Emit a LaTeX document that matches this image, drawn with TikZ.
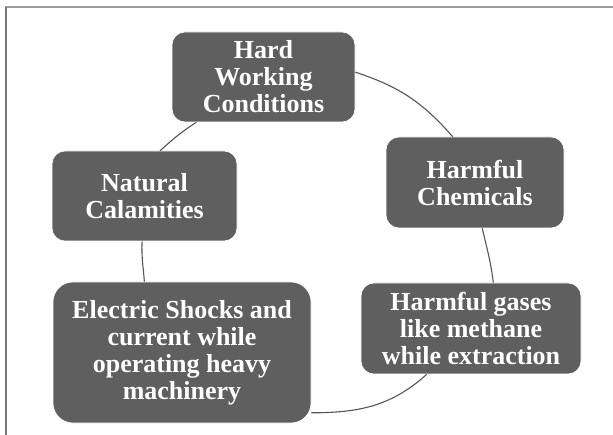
\documentclass[tikz,border=0pt]{standalone}
\usepackage{fontspec}
\setmainfont{Liberation Serif}
\definecolor{boxgray}{RGB}{95,95,95}
\definecolor{linegray}{RGB}{85,85,85}
\definecolor{frametop}{RGB}{155,155,155}
\definecolor{frameleft}{RGB}{120,120,120}
\tikzset{
  causebox/.style={rectangle, rounded corners=13pt, fill=boxgray, draw=white, line width=0.6pt,
    text=white, align=center, inner sep=0pt,
    font=\fontsize{26}{27}\selectfont\bfseries},
  cycleline/.style={draw=linegray, line width=1.1pt},
  framerule/.style={line width=1.5pt}
}
\begin{document}
\begin{tikzpicture}[x=1pt,y=1pt]
\useasboundingbox (0,0) rectangle (613,-435);
% frame
\coordinate (ftl) at (6,-7);
\coordinate (ftr) at (613,-7);
\coordinate (fbl) at (6,-435);
\draw[framerule, frametop] (5,-7) -- (ftr);
\draw[framerule, frameleft] (ftl) -- (fbl);
% nodes
\node[causebox, minimum width=183pt, minimum height=90pt] (hard) at (263.5,-77) {Hard\\Working\\Conditions};
\node[causebox, minimum width=178pt, minimum height=91pt] (chem) at (475,-182.5) {Harmful\\Chemicals};
\node[causebox, minimum width=220pt, minimum height=91pt] (gases) at (471,-328.5) {Harmful gases\\like methane\\while extraction};
\node[causebox, rounded corners=20pt, minimum width=258pt, minimum height=141pt] (elec) at (182,-352.5) {Electric Shocks and\\current while\\operating heavy\\machinery};
\node[causebox, minimum width=185pt, minimum height=90pt] (nat) at (144.5,-196) {Natural\\Calamities};
% connectors
\draw[cycleline] (hard.3.7) to[out=-18, in=131] (chem.116.8);
\draw[cycleline] (chem.-81.3) to[out=-77, in=97] (gases.64.7);
\draw[cycleline] (gases.226) to[out=222, in=0] (elec.-25.1);
\draw[cycleline] (elec.118.95) to[out=94, in=267] (nat.-93.2);
\draw[cycleline] (nat.71) to[out=42, in=213] (hard.214.1);
\end{tikzpicture}
\end{document}
